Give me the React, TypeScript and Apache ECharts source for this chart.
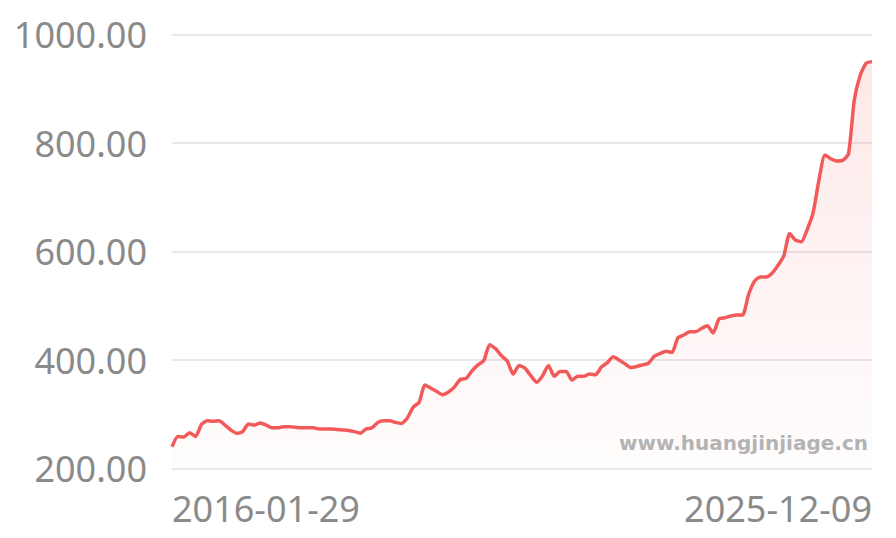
import { useEffect, useRef } from 'react';
import * as echarts from 'echarts';

const firstDate = '2016-01-29';
const lastDate = '2025-12-09';

// monthly closes
const prices = [
  240, 259, 258, 266, 259, 281, 288, 287, 288, 280,
  271, 265, 268, 282, 280, 284, 280, 275, 275, 277,
  277, 276, 275, 275, 275, 273, 273, 273, 272, 271,
  270, 268, 265, 273, 275, 285, 288, 288, 285, 283,
  293, 313, 322, 354, 348, 342, 336, 341, 350, 364,
  366, 380, 391, 399, 428, 421, 408, 398, 374, 390,
  385, 371, 359, 371, 390, 370, 379, 379, 363, 370,
  370, 374, 373, 387, 395, 406, 400, 393, 386, 388,
  391, 394, 407, 412, 416, 414, 441, 446, 452, 452,
  458, 463, 450, 476, 478, 481, 483, 483, 520, 545,
  553, 553, 560, 574, 592, 633, 621, 618, 641, 672,
  733, 778, 771, 767, 768, 780, 880, 925, 947, 950,
];

const yTicks = [200, 400, 600, 800, 1000];

const dates = prices.map((_, i) => {
  if (i === 0) return firstDate;
  if (i === prices.length - 1) return lastDate;
  const y = 2016 + Math.floor(i / 12);
  const mm = String((i % 12) + 1).padStart(2, '0');
  return `${y}-${mm}-28`;
});

const lineColor = '#f25a5a';
const fontFamily = '"Noto Sans", Roboto, sans-serif';

export default function App() {
  const chartRef = useRef<HTMLDivElement>(null);

  useEffect(() => {
    document.body.style.margin = '0';
    if (!chartRef.current) return;
    const chart = echarts.init(chartRef.current, null, { renderer: 'svg' });

    chart.setOption({
      animation: false,
      backgroundColor: '#ffffff',
      grid: { left: 172, right: 24, top: 34.5, bottom: 69.5 },
      xAxis: {
        type: 'category',
        data: dates,
        boundaryGap: false,
        axisLine: { show: false },
        axisTick: { show: false },
        axisLabel: {
          interval: prices.length - 2,
          color: '#8a8a8a',
          fontSize: 36,
          fontFamily,
          margin: 22,
          alignMinLabel: 'left',
          alignMaxLabel: 'right',
        },
      },
      yAxis: {
        type: 'value',
        min: yTicks[0],
        max: yTicks[yTicks.length - 1],
        interval: 200,
        axisLine: { show: false },
        axisTick: { show: false },
        axisLabel: {
          color: '#8a8a8a',
          fontSize: 36,
          fontFamily,
          margin: 25,
          formatter: (v: number) => v.toFixed(2),
        },
        splitLine: { lineStyle: { color: '#e7e7ed', width: 2 } },
      },
      graphic: [
        {
          type: 'text',
          right: 28,
          top: 433,
          style: {
            text: 'www.huangjinjiage.cn',
            fill: '#b3b3b3',
            font: 'bold 20px "DejaVu Sans", sans-serif',
          },
          z: 10,
        },
      ],
      series: [
        {
          type: 'line',
          data: prices,
          smooth: 0.2,
          symbol: 'none',
          lineStyle: { color: lineColor, width: 3.5 },
          areaStyle: {
            color: new echarts.graphic.LinearGradient(0, 0, 0, 1, [
              { offset: 0, color: 'rgba(242, 90, 90, 0.2)' },
              { offset: 1, color: 'rgba(242, 90, 90, 0.02)' },
            ]),
          },
        },
      ],
    });

    return () => chart.dispose();
  }, []);

  return <div ref={chartRef} style={{ width: 896, height: 538 }} />;
}
